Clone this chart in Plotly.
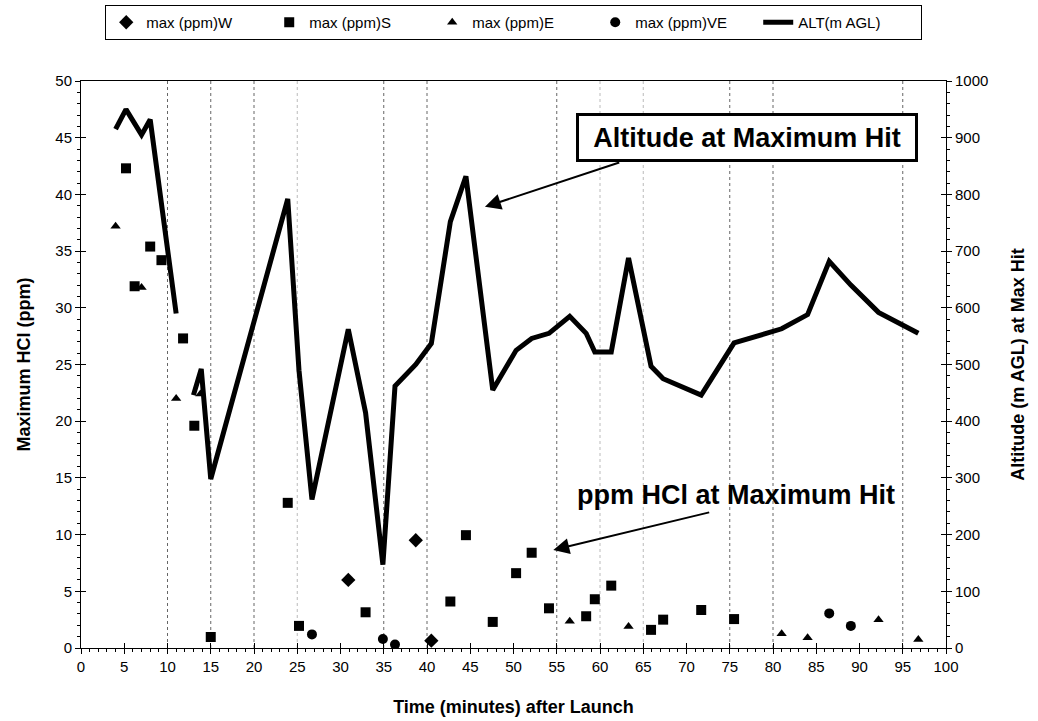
import plotly.graph_objects as go

# ---- data ----
w_time = [30.9, 38.7, 40.5]
w_ppm = [6.0, 9.5, 0.65]

s_time = [5.2, 6.2, 8.0, 9.3, 11.8, 13.1, 15.0, 23.9, 25.2, 32.9, 42.7, 44.5, 47.6,
          50.3, 52.1, 54.1, 58.4, 59.4, 61.3, 65.9, 67.3, 71.7, 75.5]
s_ppm = [42.3, 31.9, 35.4, 34.2, 27.3, 19.6, 0.97, 12.8, 1.95, 3.15, 4.1, 9.95, 2.3,
         6.6, 8.4, 3.5, 2.8, 4.3, 5.5, 1.6, 2.5, 3.35, 2.55]

e_time = [4.0, 7.0, 11.0, 13.8, 56.5, 63.3, 81.0, 84.0, 92.2, 96.8]
e_ppm = [37.2, 31.8, 22.0, 22.4, 2.35, 1.9, 1.25, 0.9, 2.5, 0.75]

ve_time = [26.7, 34.9, 36.3, 86.5, 89.0]
ve_ppm = [1.2, 0.8, 0.3, 3.05, 1.95]

alt_time = [4.0, 5.2, 7.0, 8.0, 11.0, 11.8, 13.0, 13.9, 15.0, 23.9, 25.2, 26.7, 30.9,
            32.9, 34.9, 36.3, 38.7, 40.5, 42.7, 44.5, 47.6, 50.3, 52.1, 54.1, 56.5,
            58.4, 59.4, 61.3, 63.3, 65.9, 67.3, 71.7, 75.5, 81.0, 84.0, 86.5, 89.0,
            92.2, 96.8]
alt_m = [915, 950, 905, 932, 590, None, 446, 492, 298, 792, 490, 262, 562,
         415, 147, 462, 500, 537, 752, 832, 455, 525, 546, 555, 585,
         555, 522, 522, 688, 497, 475, 446, 538, 563, 588, 682, 640,
         592, 555]

grid_dense = [10, 15, 20, 35, 40, 55, 75, 80, 95]
grid_sparse = [25, 60, 65]

FONT = "Liberation Sans, Arial, sans-serif"

fig = go.Figure()
fig.add_trace(go.Scatter(x=w_time, y=w_ppm, mode="markers", name="max (ppm)W",
                         marker=dict(symbol="diamond", size=11, color="black")))
fig.add_trace(go.Scatter(x=s_time, y=s_ppm, mode="markers", name="max (ppm)S",
                         marker=dict(symbol="square", size=10, color="black")))
fig.add_trace(go.Scatter(x=e_time, y=e_ppm, mode="markers", name="max (ppm)E",
                         marker=dict(symbol="triangle-up", size=9, color="black")))
fig.add_trace(go.Scatter(x=ve_time, y=ve_ppm, mode="markers", name="max (ppm)VE",
                         marker=dict(symbol="circle", size=10, color="black")))
fig.add_trace(go.Scatter(x=alt_time, y=alt_m, mode="lines", name="ALT(m AGL)",
                         yaxis="y2", connectgaps=False,
                         line=dict(color="black", width=5)))
# empty traces that carry the inner half of the crossing major ticks
fig.add_trace(go.Scatter(x=[], y=[], xaxis="x2", yaxis="y3", showlegend=False,
                         hoverinfo="skip"))
fig.add_trace(go.Scatter(x=[], y=[], xaxis="x2", yaxis="y4", showlegend=False,
                         hoverinfo="skip"))

shapes = []
for g in grid_dense:
    shapes.append(dict(type="line", xref="x", yref="paper", x0=g, x1=g, y0=0, y1=1,
                       line=dict(color="#666666", width=1, dash="dot"), layer="below"))
for g in grid_sparse:
    shapes.append(dict(type="line", xref="x", yref="paper", x0=g, x1=g, y0=0, y1=1,
                       line=dict(color="#bbbbbb", width=1, dash="dot"), layer="below"))

annotations = [
    dict(x=76.94, y=45.02, xref="x", yref="y", text="<b>Altitude at Maximum Hit</b>",
         showarrow=False, font=dict(family=FONT, size=27, color="black"),
         width=326, height=33,
         bordercolor="black", borderwidth=3, borderpad=5, bgcolor="white"),
    dict(x=46.7, y=38.9, xref="x", yref="y", ax=62.4, ay=42.86, axref="x", ayref="y",
         text="", showarrow=True, arrowhead=2, arrowsize=1.6, arrowwidth=2,
         arrowcolor="black"),
    dict(x=75.7, y=13.49, xref="x", yref="y", text="<b>ppm HCl at Maximum Hit</b>",
         showarrow=False, font=dict(family=FONT, size=27, color="black")),
    dict(x=54.6, y=8.64, xref="x", yref="y", ax=72.8, ay=11.99, axref="x", ayref="y",
         text="", showarrow=True, arrowhead=2, arrowsize=1.6, arrowwidth=2,
         arrowcolor="black"),
]

tick_common = dict(showgrid=False, zeroline=False, tickcolor="black")

fig.update_layout(
    width=1038, height=721,
    margin=dict(l=81, r=92, t=81, b=73, autoexpand=False),
    paper_bgcolor="white", plot_bgcolor="white",
    font=dict(family=FONT, size=14, color="black"),
    showlegend=True,
    legend=dict(orientation="h", x=0.028, xanchor="left", y=1.134, yanchor="top",
                bordercolor="black", borderwidth=1, bgcolor="white",
                font=dict(family=FONT, size=15, color="black"),
                entrywidth=118, entrywidthmode="pixels", itemwidth=30,
                traceorder="normal"),
    xaxis=dict(range=[0, 100], tickmode="linear", tick0=0, dtick=5,
               showline=True, linecolor="black", linewidth=1, mirror=True,
               ticks="outside", ticklen=5,
               minor=dict(dtick=1, ticks="outside", ticklen=3, tickcolor="black"),
               tickfont=dict(family=FONT, size=15),
               title=dict(text="<b>Time (minutes) after Launch</b>",
                          font=dict(family=FONT, size=18), standoff=26),
               **tick_common),
    xaxis2=dict(range=[0, 100], tickmode="linear", tick0=0, dtick=5, overlaying="x",
                anchor="y3", ticks="inside", ticklen=5, showticklabels=False,
                showline=False, **tick_common),
    yaxis=dict(range=[0, 50], tickmode="linear", tick0=0, dtick=5,
               showline=True, linecolor="black", linewidth=1,
               ticks="outside", ticklen=5,
               minor=dict(dtick=1, ticks="outside", ticklen=3, tickcolor="black"),
               tickfont=dict(family=FONT, size=15),
               title=dict(text="<b>Maximum HCl (ppm)</b>",
                          font=dict(family=FONT, size=18), standoff=20),
               **tick_common),
    yaxis3=dict(range=[0, 50], tickmode="linear", tick0=0, dtick=5, overlaying="y",
                anchor="x2", side="left", ticks="inside", ticklen=5,
                showticklabels=False, showline=False, **tick_common),
    yaxis2=dict(range=[0, 1000], tickmode="linear", tick0=0, dtick=100,
                overlaying="y", side="right", showline=True, linecolor="black",
                linewidth=1, ticks="outside", ticklen=5,
                minor=dict(dtick=20, ticks="outside", ticklen=3, tickcolor="black"),
                tickfont=dict(family=FONT, size=15),
                title=dict(text="<b>Altitude (m AGL) at Max Hit</b>",
                           font=dict(family=FONT, size=18), standoff=24),
                **tick_common),
    yaxis4=dict(range=[0, 1000], tickmode="linear", tick0=0, dtick=100,
                overlaying="y", anchor="x2", side="right", ticks="inside", ticklen=5,
                showticklabels=False, showline=False, **tick_common),
    shapes=shapes,
    annotations=annotations,
)

fig.write_html("out.html")
